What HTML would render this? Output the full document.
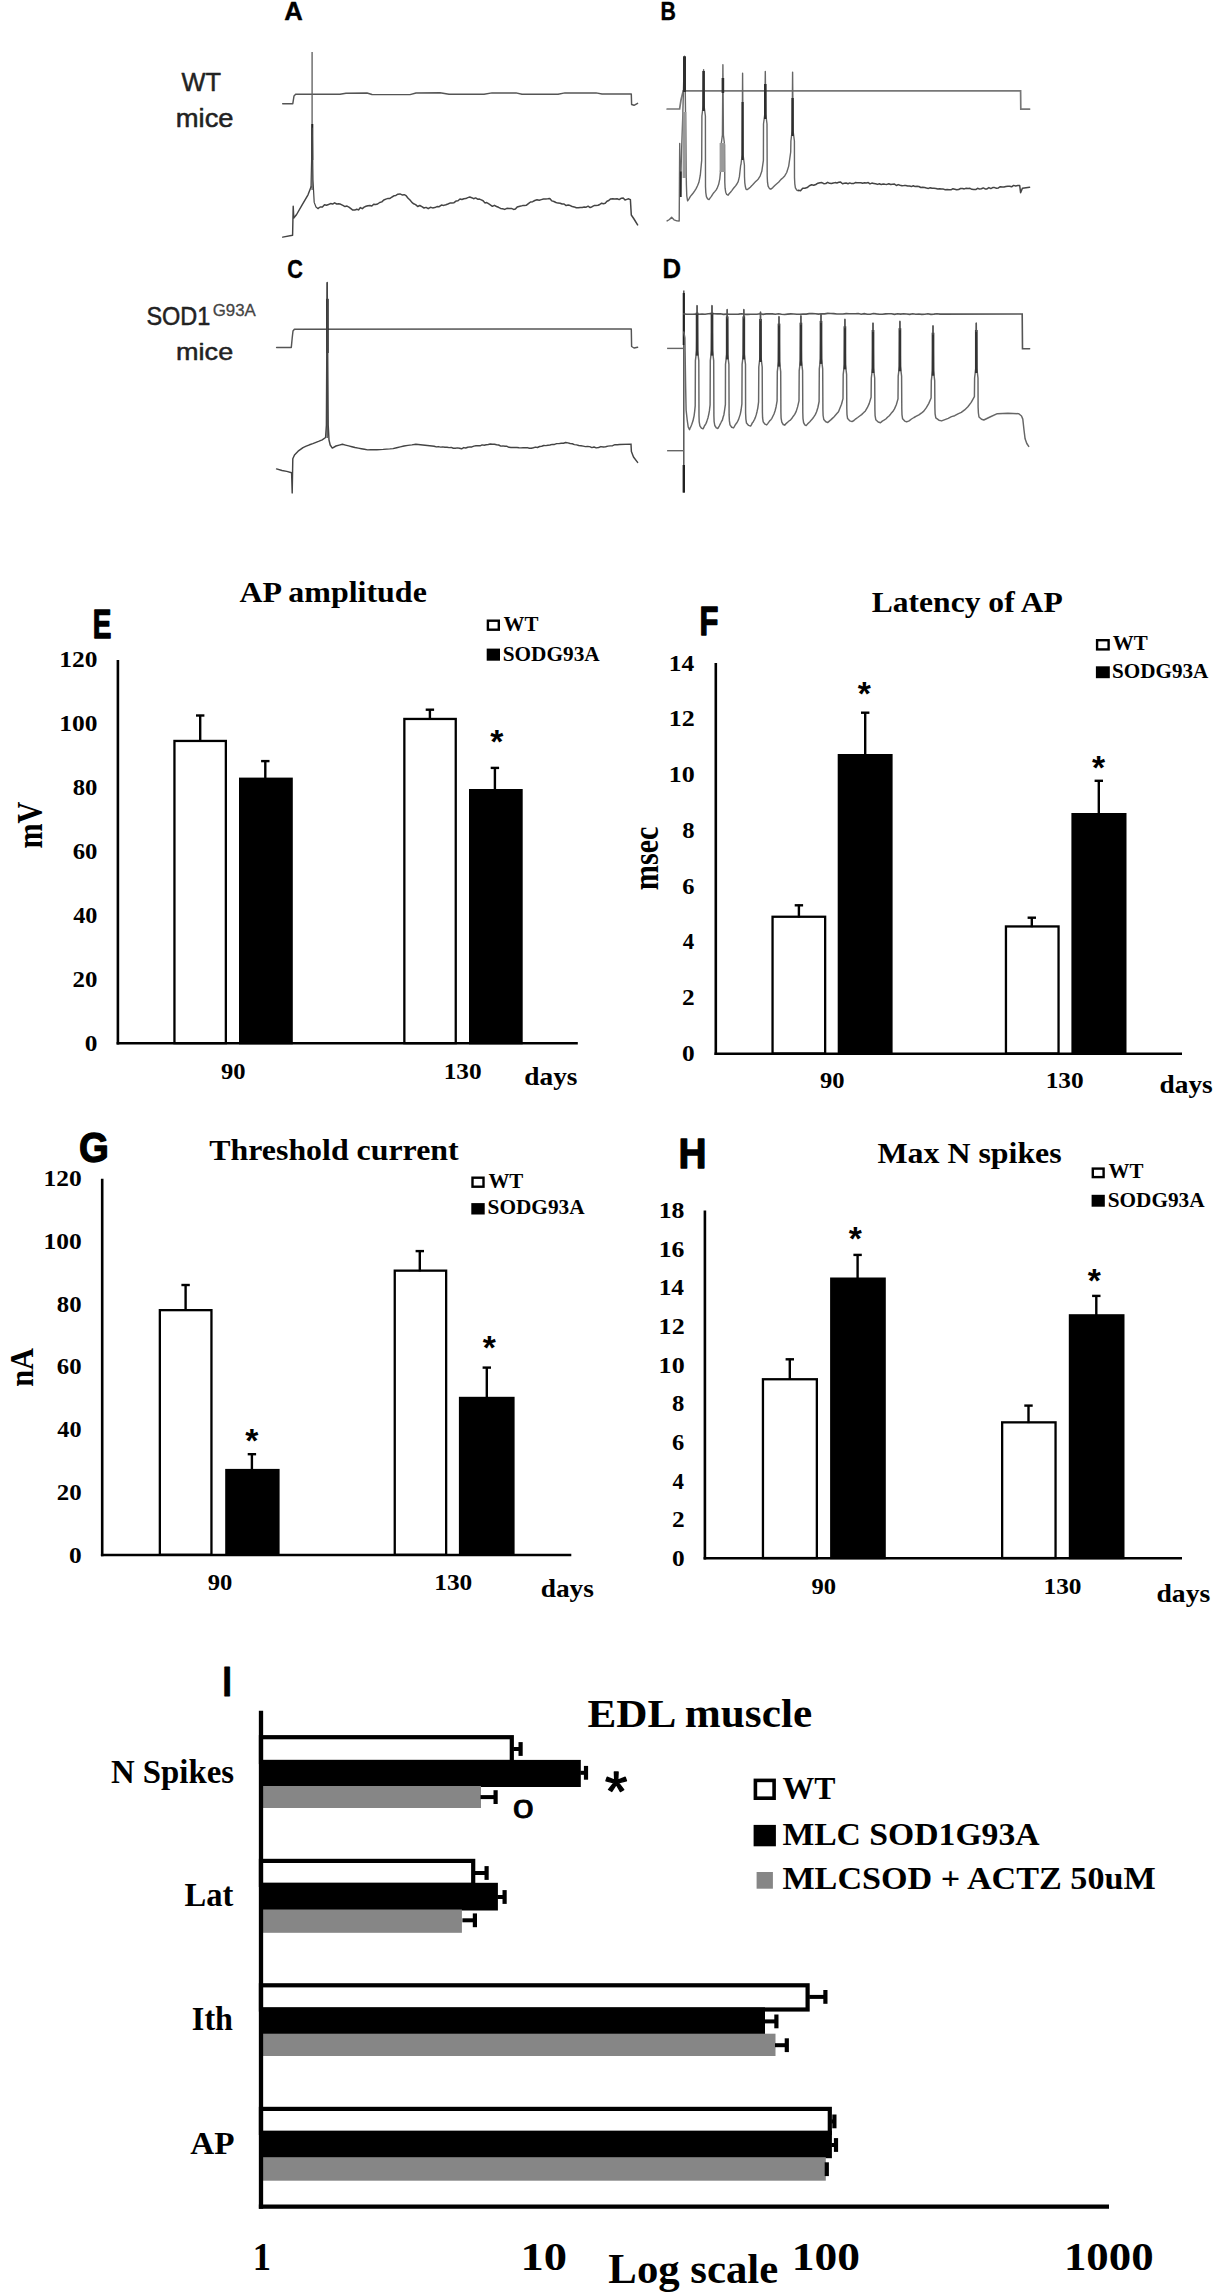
<!DOCTYPE html>
<html lang="en"><head><meta charset="utf-8"><title>Figure</title>
<style>
html,body{margin:0;padding:0;background:#fff;}
body{width:1225px;height:2295px;overflow:hidden;}
svg{display:block;}
text{white-space:pre;}
</style></head><body>
<svg width="1225" height="2295" viewBox="0 0 1225 2295">
<rect x="0" y="0" width="1225" height="2295" fill="#fff"/>
<text transform="translate(284.16,19.90) scale(0.9896,1)" font-family='"Liberation Sans", sans-serif' font-weight="bold" font-size="25.94" fill="#000" stroke="#000" stroke-width="0.4" stroke-linejoin="round">A</text>
<text transform="translate(181.42,90.75) scale(1.0025,1)" font-family='"Liberation Sans", sans-serif' font-weight="normal" font-size="25.36" fill="#222" stroke="#222" stroke-width="0.5" stroke-linejoin="round">WT</text>
<text transform="translate(175.77,126.55) scale(1.0975,1)" font-family='"Liberation Sans", sans-serif' font-weight="normal" font-size="24.97" fill="#222" stroke="#222" stroke-width="0.5" stroke-linejoin="round">mice</text>
<polyline points="282.7,103.7 292.8,103.7 294.0,96.0 295.9,94.1 340.0,94.3 346.0,93.2 367.0,93.0 372.0,94.5 410.0,94.6 416.0,93.0 440.0,92.8 449.0,94.2 484.0,94.2 492.0,92.9 516.0,92.9 522.0,94.3 558.0,94.3 565.0,92.9 596.0,92.9 602.0,94.0 631.3,93.9 631.6,104.5 634.0,105.3 637.6,103.3" fill="none" stroke="#555" stroke-width="1.45" stroke-linejoin="round" stroke-linecap="round"/>
<line x1="312.10" y1="51.90" x2="312.10" y2="190.00" stroke="#666" stroke-width="1.4" stroke-linecap="butt"/>
<line x1="312.30" y1="124.00" x2="312.30" y2="160.00" stroke="#222" stroke-width="2.0" stroke-linecap="butt"/>
<polyline points="282.7,237.1 292.6,235.3 293.2,206.2 293.8,218.0 296.6,214.5 301.7,205.6 308.0,194.8 311.0,187.0" fill="none" stroke="#444" stroke-width="1.45" stroke-linejoin="round" stroke-linecap="round"/>
<polyline points="311.0,187.0 311.8,150.0 312.3,128.0 313.0,180.0 314.2,202.4 316.0,207.0 318.1,208.7" fill="none" stroke="#444" stroke-width="1.2" stroke-linejoin="round" stroke-linecap="round"/>
<polyline points="318.1,208.4 320.2,207.0 322.4,206.9 324.5,204.7 326.5,205.2 328.5,204.5 330.6,203.6 332.6,204.1 334.6,202.8 336.7,204.0 338.8,203.8 340.8,204.3 342.9,205.4 345.0,206.6 347.0,206.1 348.9,207.1 350.9,208.6 352.8,210.1 354.8,210.1 356.7,209.3 358.5,209.9 360.4,207.6 362.3,208.7 364.1,207.1 366.0,206.3 367.9,205.7 369.9,205.5 371.8,206.0 373.7,204.2 375.7,204.4 377.6,204.0 379.7,202.5 381.8,201.9 383.8,200.0 385.9,199.1 388.0,198.4 390.0,198.4 392.0,197.0 393.9,195.8 395.9,195.4 397.9,194.2 400.0,193.9 402.1,194.9 404.2,194.7 406.1,195.7 408.1,198.2 410.0,200.0 411.9,202.4 413.7,203.8 415.6,204.6 417.7,206.5 419.8,205.5 421.9,206.7 424.0,208.0 426.1,207.4 428.2,208.7 430.4,207.3 432.6,207.9 434.8,207.6 437.0,206.6 439.2,206.7 441.4,205.1 443.7,205.4 445.9,204.7 447.9,204.0 449.9,203.1 451.9,203.1 454.0,202.7 456.0,201.1 458.0,200.8 460.0,199.0 461.9,199.5 463.9,198.7 465.8,198.6 467.8,197.6 469.8,197.0 471.7,197.7 473.6,198.7 475.6,197.9 477.6,199.2 479.5,199.1 481.3,199.9 483.1,200.7 484.9,202.9 486.7,202.6 488.5,203.7 490.3,204.9 492.4,206.3 494.4,205.3 496.5,206.5 498.5,207.3 500.6,208.4 502.6,208.8 504.7,209.4 506.9,208.3 509.1,208.5 511.4,208.4 513.6,209.4 515.4,209.1 517.2,207.0 519.0,206.5 520.8,206.1 522.6,205.6 524.4,205.6 526.2,205.3 528.4,203.6 530.5,202.0 532.7,201.7 534.8,200.5 537.0,199.8 539.2,200.3 541.3,199.6 543.5,199.0 545.6,199.0 547.8,198.8 549.8,198.5 551.9,200.9 553.9,201.5 556.0,202.5 558.0,203.1 560.1,203.2 562.1,204.0 564.1,204.0 566.1,205.6 568.2,205.1 570.2,205.6 572.2,206.5 574.2,206.9 576.3,207.8 578.3,207.8 580.3,207.4 582.2,207.4 584.2,207.0 586.2,207.2 588.1,206.2 590.1,207.6 592.1,206.7 594.1,205.6 596.0,205.4 598.0,205.3 599.8,204.5 601.6,203.2 603.4,203.7 605.2,203.2 607.0,201.3 608.8,200.5 610.6,198.9 612.8,198.8 614.9,199.0 617.1,198.7 619.2,199.6 621.4,198.2 623.2,198.1 625.0,200.0 626.8,199.4 628.6,198.8 630.4,199.7 631.3,215.0 634.0,219.0 637.6,224.9" fill="none" stroke="#444" stroke-width="1.5" stroke-linejoin="round" stroke-linecap="round"/>
<text transform="translate(660.51,20.00) scale(0.8124,1)" font-family='"Liberation Sans", sans-serif' font-weight="bold" font-size="26.23" fill="#000" stroke="#000" stroke-width="0.4" stroke-linejoin="round">B</text>
<polyline points="667.1,109.0 679.6,109.0 681.0,100.0 683.2,90.8 1020.6,90.8 1020.8,109.1 1029.6,109.1" fill="none" stroke="#777" stroke-width="1.7" stroke-linejoin="miter" stroke-linecap="round"/>
<polyline points="667.1,220.9 669.5,219.5 671.6,217.3 674.0,219.8 676.9,220.9 679.2,221.0 679.7,143.5 680.3,196.0 680.9,176.0 681.6,150.0 682.7,118.0 684.0,70.0 684.5,56.3 685.0,70.0 686.4,185.0 686.8,196.0 687.6,200.8 689.0,198.8 690.4,196.4 691.8,194.7 693.2,193.0 694.7,190.9 696.1,188.6 697.5,185.8 698.9,182.3 700.3,175.2 701.7,160.4 701.9,116.0 703.1,106.0 703.6,69.8 704.1,106.0 705.4,116.0 705.5,186.6 705.8,192.6 706.4,196.6 707.6,198.9 709.0,199.6 710.2,197.9 711.4,196.4 712.6,194.4 713.8,192.7 715.0,191.4 716.2,189.8 717.4,187.6 718.6,184.6 719.8,178.8 721.0,166.2 721.1,145.0 722.4,135.0 722.9,64.7 723.4,135.0 724.6,145.0 724.8,182.2 725.1,188.2 725.7,192.2 726.7,194.5 728.0,195.2 729.3,193.5 730.5,192.2 731.8,190.6 733.1,188.8 734.4,187.3 735.6,185.9 736.9,184.0 738.2,181.6 739.4,176.7 740.7,165.0 740.9,165.0 742.1,155.0 742.6,73.3 743.1,155.0 744.4,165.0 744.5,176.8 744.8,182.8 745.4,186.8 746.0,189.1 747.0,189.8 748.6,188.6 750.3,187.2 751.9,185.6 753.6,183.7 755.2,182.1 756.8,180.6 758.5,178.7 760.1,176.1 761.8,171.3 763.4,160.3 763.5,124.0 764.8,114.0 765.3,71.4 765.8,114.0 767.0,124.0 767.2,176.2 767.5,182.2 768.1,186.2 769.4,188.5 770.8,189.2 772.8,187.6 774.8,185.5 776.8,183.7 778.8,182.0 780.8,179.6 782.7,178.0 784.7,175.9 786.7,172.5 788.7,166.1 790.7,152.0 790.9,141.0 792.1,131.0 792.6,72.1 793.1,131.0 794.4,141.0 794.5,177.8 794.8,183.8 795.4,187.8 796.8,190.1 798.4,190.8" fill="none" stroke="#666" stroke-width="1.4" stroke-linejoin="round" stroke-linecap="round"/>
<line x1="680.80" y1="171.50" x2="680.80" y2="197.00" stroke="#2a2a2a" stroke-width="1.8" stroke-linecap="butt"/>
<rect x="682.60" y="112.00" width="3.80" height="66.00" fill="#9a9a9a"/>
<rect x="719.60" y="143.00" width="5.20" height="29.00" fill="#9a9a9a"/>
<line x1="684.50" y1="56.30" x2="684.50" y2="92.00" stroke="#2e2e2e" stroke-width="3.0" stroke-linecap="butt"/>
<line x1="703.60" y1="71.00" x2="703.60" y2="111.00" stroke="#2e2e2e" stroke-width="2.6" stroke-linecap="butt"/>
<line x1="722.90" y1="78.00" x2="722.90" y2="93.00" stroke="#2e2e2e" stroke-width="2.6" stroke-linecap="butt"/>
<line x1="742.60" y1="102.00" x2="742.60" y2="160.00" stroke="#2e2e2e" stroke-width="2.2" stroke-linecap="butt"/>
<line x1="765.30" y1="84.00" x2="765.30" y2="119.00" stroke="#2e2e2e" stroke-width="2.6" stroke-linecap="butt"/>
<line x1="792.60" y1="98.00" x2="792.60" y2="136.00" stroke="#2e2e2e" stroke-width="2.4" stroke-linecap="butt"/>
<polyline points="798.4,190.3 800.5,190.8 802.7,188.3 804.9,188.2 807.2,187.6 809.4,185.7 811.6,184.8 813.7,185.3 815.8,184.5 817.9,183.2 820.0,182.7 821.9,182.6 823.8,183.7 825.8,183.5 827.7,182.3 829.6,183.3 831.4,183.6 833.3,183.1 835.1,182.6 836.9,183.0 838.8,182.3 840.6,182.1 842.5,183.7 844.3,183.2 846.1,183.0 848.0,183.7 849.8,182.9 851.6,183.6 853.5,183.6 855.3,182.6 857.1,182.7 859.0,182.8 860.8,182.7 862.7,183.3 864.5,182.8 866.3,183.0 868.2,182.6 870.0,183.9 871.9,183.1 873.8,183.4 875.6,183.7 877.5,184.4 879.4,183.7 881.3,184.6 883.2,184.1 885.1,184.3 887.0,184.4 888.8,183.7 890.7,184.5 892.6,184.2 894.5,184.1 896.4,185.5 898.2,184.6 900.1,185.2 902.0,185.7 903.9,185.6 905.8,185.4 907.7,185.9 909.5,186.1 911.4,186.6 913.3,185.7 915.2,186.6 917.1,186.3 918.9,186.5 920.8,187.5 922.7,187.2 924.6,187.5 926.5,188.0 928.4,188.4 930.2,187.8 932.1,188.3 934.0,188.3 935.9,188.4 937.8,188.9 939.6,188.7 941.5,189.0 943.4,189.1 945.3,189.8 947.2,189.4 949.1,189.7 951.0,189.8 952.9,188.7 954.8,189.2 956.7,189.8 958.6,189.6 960.5,188.5 962.4,188.4 964.3,188.9 966.2,188.3 968.1,188.6 970.0,188.3 971.9,189.3 973.8,189.5 975.7,189.6 977.6,188.3 979.5,189.1 981.4,188.8 983.3,187.9 985.1,188.9 987.0,188.9 988.9,187.6 990.8,188.6 992.7,187.6 994.6,187.6 996.5,188.3 998.4,187.9 1000.3,186.7 1002.2,187.0 1004.0,187.0 1005.9,186.6 1007.8,186.2 1009.7,186.2 1011.6,186.8 1013.6,185.4 1015.7,186.0 1017.7,185.6 1019.7,185.5 1020.6,192.7 1022.4,188.2 1029.6,187.3" fill="none" stroke="#444" stroke-width="1.5" stroke-linejoin="round" stroke-linecap="round"/>
<text transform="translate(287.33,278.10) scale(0.8159,1)" font-family='"Liberation Sans", sans-serif' font-weight="bold" font-size="26.57" fill="#000" stroke="#000" stroke-width="0.4" stroke-linejoin="round">C</text>
<text transform="translate(146.39,325.15) scale(0.9138,1)" font-family='"Liberation Sans", sans-serif' font-weight="normal" font-size="25.71" fill="#222" stroke="#222" stroke-width="0.5" stroke-linejoin="round">SOD1</text>
<text transform="translate(212.71,316.45) scale(0.9746,1)" font-family='"Liberation Sans", sans-serif' font-weight="normal" font-size="17.29" fill="#444" stroke="#444" stroke-width="0.3" stroke-linejoin="round">G93A</text>
<text transform="translate(176.09,360.25) scale(1.1018,1)" font-family='"Liberation Sans", sans-serif' font-weight="normal" font-size="24.55" fill="#222" stroke="#222" stroke-width="0.5" stroke-linejoin="round">mice</text>
<polyline points="276.6,347.4 291.3,347.4 292.2,338.0 293.0,331.0 294.4,329.2 631.3,329.0 631.6,346.5 634.0,348.0 637.6,347.2" fill="none" stroke="#555" stroke-width="1.45" stroke-linejoin="round" stroke-linecap="round"/>
<line x1="327.20" y1="282.40" x2="327.20" y2="438.00" stroke="#555" stroke-width="1.4" stroke-linecap="butt"/>
<line x1="327.40" y1="298.80" x2="327.40" y2="353.00" stroke="#1a1a1a" stroke-width="2.6" stroke-linecap="butt"/>
<polyline points="276.6,468.9 282.0,470.5 286.8,471.4 291.6,472.7 292.2,492.9 292.8,458.8 294.5,455.0 298.1,451.2 303.0,447.6 306.2,446.2 309.5,444.8 312.8,443.6 316.0,442.3 319.1,441.1 322.2,439.8 325.6,437.5 326.4,425.0 327.2,282.4 328.2,425.0 329.0,440.0 330.2,445.0 332.3,448.1 336.0,446.0 339.2,445.1 342.4,444.3 345.5,445.1 348.7,445.9 351.9,446.7 355.0,447.5 358.2,448.1 361.4,448.7 364.5,449.3 367.7,449.9 370.8,449.8 373.9,449.8 376.9,449.7 380.0,449.6 383.2,449.4 386.5,449.1 389.8,448.9 393.0,448.6 396.7,447.7 400.3,446.9 404.0,446.0 407.9,445.4 411.9,444.9 415.8,444.3 432.0,446.0 434.1,446.2 436.3,446.9 438.4,446.6 440.6,447.1 442.7,446.9 444.9,447.3 447.0,447.2 449.1,447.6 451.2,447.4 453.3,448.2 455.3,448.2 457.4,447.9 459.5,448.3 461.6,448.8 463.7,447.6 465.7,448.0 467.8,447.2 469.8,446.9 471.9,446.9 473.9,446.1 476.0,445.8 478.0,445.7 480.1,445.8 482.1,444.9 484.2,445.2 486.2,444.8 488.3,444.5 490.3,444.0 492.4,444.3 494.5,444.3 496.6,444.8 498.7,445.0 500.8,446.1 502.9,445.9 505.0,446.2 507.0,446.3 509.0,447.3 511.0,447.5 513.0,447.5 515.0,447.4 517.0,447.5 519.0,447.8 521.1,447.9 523.1,447.6 525.2,447.8 527.2,447.6 529.3,448.2 531.3,448.2 533.4,447.7 535.5,447.1 537.5,447.5 539.6,446.5 541.7,446.2 543.8,445.5 545.9,445.6 547.9,445.3 550.0,445.0 552.2,444.4 554.5,444.4 556.7,443.6 559.0,443.6 561.2,443.2 563.5,443.2 565.7,442.5 567.9,442.9 570.1,443.5 572.3,443.8 574.4,444.6 576.6,444.9 578.8,445.5 581.0,445.8 583.2,446.1 585.3,446.6 587.5,446.4 589.7,446.6 591.9,447.6 594.0,447.0 596.2,447.9 598.6,447.5 600.9,446.6 603.3,447.0 605.6,446.7 608.0,446.1 610.3,445.9 612.6,445.7 615.0,444.7 617.3,444.8 619.6,444.5 631.0,444.1 631.4,451.6 633.5,457.0 637.6,462.4" fill="none" stroke="#444" stroke-width="1.45" stroke-linejoin="round" stroke-linecap="round"/>
<text transform="translate(662.53,278.40) scale(0.9582,1)" font-family='"Liberation Sans", sans-serif' font-weight="bold" font-size="26.81" fill="#000" stroke="#000" stroke-width="0.4" stroke-linejoin="round">D</text>
<line x1="683.80" y1="290.50" x2="683.80" y2="492.60" stroke="#555" stroke-width="1.5" stroke-linecap="butt"/>
<line x1="683.80" y1="293.00" x2="683.80" y2="345.00" stroke="#222" stroke-width="2.2" stroke-linecap="butt"/>
<line x1="683.80" y1="465.00" x2="683.80" y2="492.60" stroke="#222" stroke-width="2.4" stroke-linecap="butt"/>
<line x1="667.10" y1="348.40" x2="683.80" y2="348.40" stroke="#666" stroke-width="1.4" stroke-linecap="butt"/>
<line x1="667.10" y1="450.70" x2="683.80" y2="450.70" stroke="#666" stroke-width="1.4" stroke-linecap="butt"/>
<polyline points="683.8,313.9 686.8,314.2 689.9,314.2 692.9,314.2 696.0,314.0 699.0,314.3 702.1,314.1 705.1,314.2 708.2,313.8 711.2,313.6 714.3,313.7 717.3,313.9 720.4,313.7 723.4,314.4 726.5,314.1 729.5,314.2 732.6,314.2 735.6,314.3 738.7,314.1 741.7,313.7 744.8,314.4 747.8,314.4 750.9,314.2 753.9,314.2 757.0,314.3 760.0,313.8 763.1,314.4 766.2,313.9 769.2,313.8 772.3,313.9 775.4,314.3 778.5,313.8 781.5,314.3 784.6,314.5 787.7,314.1 790.8,313.9 793.8,314.0 796.9,314.2 800.0,314.2 803.1,314.1 806.2,314.1 809.2,313.6 812.3,313.6 815.4,313.7 818.5,314.1 821.5,313.7 824.6,313.9 827.7,313.4 830.8,313.5 833.8,313.6 836.9,314.0 840.0,314.0 843.0,314.0 846.1,313.6 849.1,313.8 852.1,313.8 855.2,313.8 858.2,313.5 861.2,314.2 864.2,313.6 867.3,314.3 870.3,314.3 873.3,313.5 876.4,313.9 879.4,314.2 882.4,314.3 885.5,313.9 888.5,313.7 891.5,313.7 894.5,314.4 897.6,313.7 900.6,314.1 903.6,313.7 906.7,314.0 909.7,314.4 912.7,313.7 915.8,314.3 918.8,314.0 921.8,314.4 924.8,314.2 927.9,313.8 930.9,314.4 933.9,314.1 937.0,313.7 940.0,314.1 1022.2,314.0 1022.5,348.7 1029.6,348.7" fill="none" stroke="#555" stroke-width="1.6" stroke-linejoin="miter" stroke-linecap="round"/>
<polyline points="683.8,332.0 684.9,338.0 685.6,385.0 686.1,410.0 687.2,420.0 688.2,427.0 689.5,429.7 690.1,428.0 690.6,427.1 691.2,425.7 691.8,424.2 692.4,422.5 693.0,420.8 693.5,418.5 694.1,415.8 694.7,411.1 695.2,405.9 695.4,360.6 696.6,350.6 697.1,305.6 697.6,350.6 698.8,360.6 699.0,415.8 699.2,421.8 699.9,425.8 701.4,428.1 703.0,428.8 703.7,427.7 704.4,425.9 705.1,425.1 705.9,423.6 706.6,422.1 707.3,419.9 708.0,417.7 708.7,414.6 709.4,410.9 710.1,404.9 710.3,360.6 711.5,350.6 712.0,305.6 712.5,350.6 713.7,360.6 713.9,415.5 714.1,421.5 714.8,425.5 716.3,427.8 717.9,428.5 718.6,427.1 719.4,425.8 720.1,424.4 720.9,422.8 721.6,421.3 722.4,420.0 723.1,417.3 723.9,414.7 724.6,410.1 725.4,404.3 725.5,364.4 726.7,354.4 727.2,309.4 727.7,354.4 728.9,364.4 729.1,414.9 729.4,420.9 730.0,424.9 731.7,427.2 733.5,427.9 734.3,426.6 735.2,425.0 736.0,423.8 736.9,422.8 737.7,421.2 738.6,419.4 739.4,416.9 740.3,414.1 741.1,410.0 741.9,403.9 742.1,364.4 743.3,354.4 743.8,309.4 744.3,354.4 745.5,364.4 745.6,413.1 745.9,419.1 746.5,423.1 748.6,425.4 750.6,426.1 751.4,424.9 752.2,423.1 753.0,422.3 753.8,420.7 754.6,419.3 755.4,417.4 756.2,414.9 757.0,411.7 757.8,408.1 758.6,401.8 758.8,367.0 760.0,357.0 760.5,312.0 761.0,357.0 762.2,367.0 762.4,411.9 762.6,417.9 763.2,421.9 765.0,424.2 766.7,424.9 767.7,423.6 768.8,422.1 769.8,420.8 770.9,419.7 771.9,418.3 773.0,416.0 774.0,414.0 775.1,410.7 776.1,406.7 777.1,400.8 777.3,371.6 778.5,361.6 779.0,316.6 779.5,361.6 780.7,371.6 780.9,412.2 781.1,418.2 781.8,422.2 783.2,424.5 784.7,425.2 786.1,423.6 787.6,422.3 789.0,421.0 790.4,420.1 791.9,418.3 793.3,416.2 794.7,414.4 796.2,411.4 797.6,406.9 799.0,400.9 799.2,370.7 800.4,360.7 800.9,315.7 801.4,360.7 802.6,370.7 802.8,412.6 803.0,418.6 803.6,422.6 804.8,424.9 806.2,425.6 807.5,424.1 808.8,422.7 810.1,421.5 811.4,419.9 812.7,418.5 814.0,416.7 815.3,414.6 816.6,411.8 817.9,407.5 819.1,401.5 819.3,368.9 820.5,358.9 821.0,313.9 821.5,358.9 822.7,368.9 822.9,409.5 823.1,415.5 823.8,419.5 825.8,421.8 827.8,422.5 829.3,421.1 830.8,419.9 832.4,418.4 833.9,417.0 835.4,415.3 836.9,413.6 838.5,411.8 840.0,408.1 841.5,404.2 843.0,398.6 843.2,374.3 844.4,364.3 844.9,319.3 845.4,364.3 846.6,374.3 846.8,408.6 847.0,414.6 847.6,418.6 849.9,420.9 852.0,421.6 853.9,420.5 855.8,418.8 857.7,417.5 859.7,416.0 861.6,414.6 863.5,412.8 865.4,410.9 867.3,407.7 869.2,403.6 871.1,397.3 871.3,378.0 872.5,368.0 873.0,323.0 873.5,368.0 874.7,378.0 874.9,409.7 875.1,415.7 875.8,419.7 878.2,422.0 880.5,422.7 882.3,421.1 884.0,420.2 885.8,419.0 887.5,417.3 889.3,415.8 891.0,413.6 892.8,411.6 894.5,408.9 896.3,404.7 898.0,398.9 898.2,376.2 899.4,366.2 899.9,321.2 900.4,366.2 901.6,376.2 901.8,408.8 902.0,414.8 902.6,418.8 904.7,421.1 906.6,421.8 909.1,420.8 911.5,419.0 914.0,417.5 916.4,416.2 918.9,414.9 921.3,413.2 923.8,411.1 926.2,407.9 928.7,403.6 931.1,398.0 931.3,380.7 932.5,370.7 933.0,325.7 933.5,370.7 934.7,380.7 934.9,407.9 935.1,413.9 935.8,417.9 938.9,420.2 941.6,420.9 944.9,419.6 948.2,418.3 951.5,416.6 954.7,415.7 958.0,413.8 961.3,412.4 964.6,409.9 967.9,406.7 971.2,402.4 974.4,396.7 974.6,378.0 975.8,368.0 976.3,323.0 976.8,368.0 978.0,378.0 978.1,407.0 978.4,413.0 979.0,417.0 981.5,419.3 983.8,420.0 990.0,417.0 997.3,413.7 1008.0,413.2 1018.8,413.7 1021.5,416.0 1022.8,419.1 1024.0,430.0 1025.1,438.8 1026.8,443.5 1028.7,446.4" fill="none" stroke="#666" stroke-width="1.45" stroke-linejoin="round" stroke-linecap="round"/>
<line x1="697.10" y1="312.60" x2="697.10" y2="355.60" stroke="#333" stroke-width="2.7" stroke-linecap="butt"/>
<line x1="697.10" y1="305.60" x2="697.10" y2="314.60" stroke="#555" stroke-width="1.4" stroke-linecap="butt"/>
<line x1="712.00" y1="312.60" x2="712.00" y2="355.60" stroke="#333" stroke-width="2.7" stroke-linecap="butt"/>
<line x1="712.00" y1="305.60" x2="712.00" y2="314.60" stroke="#555" stroke-width="1.4" stroke-linecap="butt"/>
<line x1="727.20" y1="316.40" x2="727.20" y2="359.40" stroke="#333" stroke-width="2.7" stroke-linecap="butt"/>
<line x1="727.20" y1="309.40" x2="727.20" y2="318.40" stroke="#555" stroke-width="1.4" stroke-linecap="butt"/>
<line x1="743.80" y1="316.40" x2="743.80" y2="359.40" stroke="#333" stroke-width="2.7" stroke-linecap="butt"/>
<line x1="743.80" y1="309.40" x2="743.80" y2="318.40" stroke="#555" stroke-width="1.4" stroke-linecap="butt"/>
<line x1="760.50" y1="319.00" x2="760.50" y2="362.00" stroke="#333" stroke-width="2.7" stroke-linecap="butt"/>
<line x1="760.50" y1="312.00" x2="760.50" y2="321.00" stroke="#555" stroke-width="1.4" stroke-linecap="butt"/>
<line x1="779.00" y1="323.60" x2="779.00" y2="366.60" stroke="#333" stroke-width="2.7" stroke-linecap="butt"/>
<line x1="779.00" y1="316.60" x2="779.00" y2="325.60" stroke="#555" stroke-width="1.4" stroke-linecap="butt"/>
<line x1="800.90" y1="322.70" x2="800.90" y2="365.70" stroke="#333" stroke-width="2.7" stroke-linecap="butt"/>
<line x1="800.90" y1="315.70" x2="800.90" y2="324.70" stroke="#555" stroke-width="1.4" stroke-linecap="butt"/>
<line x1="821.00" y1="320.90" x2="821.00" y2="363.90" stroke="#333" stroke-width="2.7" stroke-linecap="butt"/>
<line x1="821.00" y1="313.90" x2="821.00" y2="322.90" stroke="#555" stroke-width="1.4" stroke-linecap="butt"/>
<line x1="844.90" y1="326.30" x2="844.90" y2="369.30" stroke="#333" stroke-width="2.7" stroke-linecap="butt"/>
<line x1="844.90" y1="319.30" x2="844.90" y2="328.30" stroke="#555" stroke-width="1.4" stroke-linecap="butt"/>
<line x1="873.00" y1="330.00" x2="873.00" y2="373.00" stroke="#333" stroke-width="2.7" stroke-linecap="butt"/>
<line x1="873.00" y1="323.00" x2="873.00" y2="332.00" stroke="#555" stroke-width="1.4" stroke-linecap="butt"/>
<line x1="899.90" y1="328.20" x2="899.90" y2="371.20" stroke="#333" stroke-width="2.7" stroke-linecap="butt"/>
<line x1="899.90" y1="321.20" x2="899.90" y2="330.20" stroke="#555" stroke-width="1.4" stroke-linecap="butt"/>
<line x1="933.00" y1="332.70" x2="933.00" y2="375.70" stroke="#333" stroke-width="2.7" stroke-linecap="butt"/>
<line x1="933.00" y1="325.70" x2="933.00" y2="334.70" stroke="#555" stroke-width="1.4" stroke-linecap="butt"/>
<line x1="976.30" y1="330.00" x2="976.30" y2="373.00" stroke="#333" stroke-width="2.7" stroke-linecap="butt"/>
<line x1="976.30" y1="323.00" x2="976.30" y2="332.00" stroke="#555" stroke-width="1.4" stroke-linecap="butt"/>
<rect x="174.45" y="740.95" width="51.40" height="302.20" fill="#fff" stroke="#000" stroke-width="2.3"/>
<rect x="239.00" y="777.60" width="53.80" height="266.70" fill="#000"/>
<rect x="404.35" y="718.95" width="51.40" height="324.20" fill="#fff" stroke="#000" stroke-width="2.3"/>
<rect x="469.00" y="789.00" width="53.70" height="255.30" fill="#000"/>
<line x1="200.20" y1="714.90" x2="200.20" y2="741.70" stroke="#000" stroke-width="2.4" stroke-linecap="butt"/>
<line x1="196.00" y1="715.50" x2="204.40" y2="715.50" stroke="#000" stroke-width="2.4" stroke-linecap="butt"/>
<line x1="265.30" y1="760.50" x2="265.30" y2="778.60" stroke="#000" stroke-width="2.4" stroke-linecap="butt"/>
<line x1="261.10" y1="761.10" x2="269.50" y2="761.10" stroke="#000" stroke-width="2.4" stroke-linecap="butt"/>
<line x1="429.90" y1="709.10" x2="429.90" y2="719.70" stroke="#000" stroke-width="2.4" stroke-linecap="butt"/>
<line x1="425.70" y1="709.70" x2="434.10" y2="709.70" stroke="#000" stroke-width="2.4" stroke-linecap="butt"/>
<line x1="494.90" y1="767.30" x2="494.90" y2="790.00" stroke="#000" stroke-width="2.4" stroke-linecap="butt"/>
<line x1="490.70" y1="767.90" x2="499.10" y2="767.90" stroke="#000" stroke-width="2.4" stroke-linecap="butt"/>
<line x1="117.90" y1="660.00" x2="117.90" y2="1044.55" stroke="#000" stroke-width="2.6" stroke-linecap="butt"/>
<line x1="116.60" y1="1043.30" x2="577.80" y2="1043.30" stroke="#000" stroke-width="2.6" stroke-linecap="butt"/>
<text transform="translate(84.74,1051.20) scale(1.0672,1)" font-family='"Liberation Serif", serif' font-weight="bold" font-size="23.76" fill="#000">0</text>
<text transform="translate(72.50,987.20) scale(1.0476,1)" font-family='"Liberation Serif", serif' font-weight="bold" font-size="23.76" fill="#000">20</text>
<text transform="translate(73.14,923.20) scale(1.0199,1)" font-family='"Liberation Serif", serif' font-weight="bold" font-size="23.76" fill="#000">40</text>
<text transform="translate(72.63,859.20) scale(1.0420,1)" font-family='"Liberation Serif", serif' font-weight="bold" font-size="23.76" fill="#000">60</text>
<text transform="translate(72.63,795.20) scale(1.0420,1)" font-family='"Liberation Serif", serif' font-weight="bold" font-size="23.76" fill="#000">80</text>
<text transform="translate(59.21,731.20) scale(1.0720,1)" font-family='"Liberation Serif", serif' font-weight="bold" font-size="23.76" fill="#000">100</text>
<text transform="translate(59.21,667.20) scale(1.0720,1)" font-family='"Liberation Serif", serif' font-weight="bold" font-size="23.76" fill="#000">120</text>
<text transform="translate(490.33,753.15) scale(1.0216,1)" font-family='"Liberation Sans", sans-serif' font-weight="bold" font-size="32.97">*</text>
<text transform="translate(239.48,602.30) scale(1.0685,1)" font-family='"Liberation Serif", serif' font-weight="bold" font-size="29.92" fill="#000">AP amplitude</text>
<text transform="translate(92.73,637.55) scale(0.6747,1)" font-family='"Liberation Sans", sans-serif' font-weight="bold" font-size="41.45" fill="#000" stroke="#000" stroke-width="1.3" stroke-linejoin="round">E</text>
<rect x="487.90" y="620.70" width="10.90" height="9.00" fill="#fff" stroke="#000" stroke-width="2.4"/>
<rect x="486.70" y="648.60" width="13.30" height="12.10" fill="#000"/>
<text transform="translate(503.59,631.20) scale(0.9857,1)" font-family='"Liberation Serif", serif' font-weight="bold" font-size="21.22" fill="#000">WT</text>
<text transform="translate(502.73,660.50) scale(0.9826,1)" font-family='"Liberation Serif", serif' font-weight="bold" font-size="21.67" fill="#000">SODG93A</text>
<text transform="translate(220.89,1079.00) scale(1.0353,1)" font-family='"Liberation Serif", serif' font-weight="bold" font-size="23.76" fill="#000">90</text>
<text transform="translate(443.67,1079.00) scale(1.0675,1)" font-family='"Liberation Serif", serif' font-weight="bold" font-size="23.76" fill="#000">130</text>
<text transform="translate(524.31,1085.40) scale(1.0556,1)" font-family='"Liberation Serif", serif' font-weight="bold" font-size="25.90" fill="#000">days</text>
<text transform="translate(41.90,848.55) rotate(-90) scale(0.8600,1)" font-family='"Liberation Serif", serif' font-weight="bold" font-size="35.11">mV</text>
<rect x="772.55" y="916.75" width="52.60" height="136.80" fill="#fff" stroke="#000" stroke-width="2.3"/>
<rect x="837.70" y="754.00" width="54.90" height="300.70" fill="#000"/>
<rect x="1005.95" y="926.45" width="52.60" height="127.10" fill="#fff" stroke="#000" stroke-width="2.3"/>
<rect x="1071.40" y="813.00" width="55.10" height="241.70" fill="#000"/>
<line x1="798.90" y1="904.70" x2="798.90" y2="917.50" stroke="#000" stroke-width="2.4" stroke-linecap="butt"/>
<line x1="794.70" y1="905.30" x2="803.10" y2="905.30" stroke="#000" stroke-width="2.4" stroke-linecap="butt"/>
<line x1="865.20" y1="712.10" x2="865.20" y2="755.00" stroke="#000" stroke-width="2.4" stroke-linecap="butt"/>
<line x1="861.00" y1="712.70" x2="869.40" y2="712.70" stroke="#000" stroke-width="2.4" stroke-linecap="butt"/>
<line x1="1031.80" y1="917.10" x2="1031.80" y2="927.20" stroke="#000" stroke-width="2.4" stroke-linecap="butt"/>
<line x1="1027.60" y1="917.70" x2="1036.00" y2="917.70" stroke="#000" stroke-width="2.4" stroke-linecap="butt"/>
<line x1="1098.80" y1="780.20" x2="1098.80" y2="814.00" stroke="#000" stroke-width="2.4" stroke-linecap="butt"/>
<line x1="1094.60" y1="780.80" x2="1103.00" y2="780.80" stroke="#000" stroke-width="2.4" stroke-linecap="butt"/>
<line x1="715.80" y1="663.00" x2="715.80" y2="1054.95" stroke="#000" stroke-width="2.6" stroke-linecap="butt"/>
<line x1="714.50" y1="1053.70" x2="1182.00" y2="1053.70" stroke="#000" stroke-width="2.6" stroke-linecap="butt"/>
<text transform="translate(682.04,1060.60) scale(1.0672,1)" font-family='"Liberation Serif", serif' font-weight="bold" font-size="23.76" fill="#000">0</text>
<text transform="translate(682.04,1004.90) scale(1.0592,1)" font-family='"Liberation Serif", serif' font-weight="bold" font-size="23.94" fill="#000">2</text>
<text transform="translate(682.71,949.20) scale(0.9567,1)" font-family='"Liberation Serif", serif' font-weight="bold" font-size="23.94" fill="#000">4</text>
<text transform="translate(682.19,893.50) scale(1.0227,1)" font-family='"Liberation Serif", serif' font-weight="bold" font-size="23.94" fill="#000">6</text>
<text transform="translate(682.18,837.80) scale(1.0424,1)" font-family='"Liberation Serif", serif' font-weight="bold" font-size="23.76" fill="#000">8</text>
<text transform="translate(668.72,782.10) scale(1.0953,1)" font-family='"Liberation Serif", serif' font-weight="bold" font-size="23.76" fill="#000">10</text>
<text transform="translate(668.72,726.40) scale(1.0870,1)" font-family='"Liberation Serif", serif' font-weight="bold" font-size="23.94" fill="#000">12</text>
<text transform="translate(668.76,670.70) scale(1.0629,1)" font-family='"Liberation Serif", serif' font-weight="bold" font-size="23.94" fill="#000">14</text>
<text transform="translate(857.73,704.85) scale(1.0216,1)" font-family='"Liberation Sans", sans-serif' font-weight="bold" font-size="32.97">*</text>
<text transform="translate(1091.93,778.95) scale(1.0216,1)" font-family='"Liberation Sans", sans-serif' font-weight="bold" font-size="32.97">*</text>
<text transform="translate(871.73,611.70) scale(1.0556,1)" font-family='"Liberation Serif", serif' font-weight="bold" font-size="29.92" fill="#000">Latency of AP</text>
<text transform="translate(699.54,635.05) scale(0.7689,1)" font-family='"Liberation Sans", sans-serif' font-weight="bold" font-size="40.29" fill="#000" stroke="#000" stroke-width="1.3" stroke-linejoin="round">F</text>
<rect x="1097.10" y="640.20" width="11.50" height="9.20" fill="#fff" stroke="#000" stroke-width="2.4"/>
<rect x="1095.90" y="666.30" width="13.90" height="11.90" fill="#000"/>
<text transform="translate(1112.79,650.20) scale(0.9857,1)" font-family='"Liberation Serif", serif' font-weight="bold" font-size="21.22" fill="#000">WT</text>
<text transform="translate(1111.94,678.00) scale(0.9775,1)" font-family='"Liberation Serif", serif' font-weight="bold" font-size="21.67" fill="#000">SODG93A</text>
<text transform="translate(819.89,1088.40) scale(1.0353,1)" font-family='"Liberation Serif", serif' font-weight="bold" font-size="23.76" fill="#000">90</text>
<text transform="translate(1045.67,1088.40) scale(1.0675,1)" font-family='"Liberation Serif", serif' font-weight="bold" font-size="23.76" fill="#000">130</text>
<text transform="translate(1159.50,1093.00) scale(1.0577,1)" font-family='"Liberation Serif", serif' font-weight="bold" font-size="25.90" fill="#000">days</text>
<text transform="translate(658.00,890.15) rotate(-90) scale(0.8653,1)" font-family='"Liberation Serif", serif' font-weight="bold" font-size="34.89">msec</text>
<rect x="159.85" y="1310.15" width="51.60" height="244.70" fill="#fff" stroke="#000" stroke-width="2.3"/>
<rect x="225.20" y="1468.90" width="54.40" height="87.10" fill="#000"/>
<rect x="394.75" y="1270.65" width="51.40" height="284.20" fill="#fff" stroke="#000" stroke-width="2.3"/>
<rect x="458.90" y="1396.80" width="55.70" height="159.20" fill="#000"/>
<line x1="185.60" y1="1284.40" x2="185.60" y2="1310.90" stroke="#000" stroke-width="2.4" stroke-linecap="butt"/>
<line x1="181.40" y1="1285.00" x2="189.80" y2="1285.00" stroke="#000" stroke-width="2.4" stroke-linecap="butt"/>
<line x1="251.90" y1="1453.60" x2="251.90" y2="1469.90" stroke="#000" stroke-width="2.4" stroke-linecap="butt"/>
<line x1="247.70" y1="1454.20" x2="256.10" y2="1454.20" stroke="#000" stroke-width="2.4" stroke-linecap="butt"/>
<line x1="419.80" y1="1250.50" x2="419.80" y2="1271.40" stroke="#000" stroke-width="2.4" stroke-linecap="butt"/>
<line x1="415.60" y1="1251.10" x2="424.00" y2="1251.10" stroke="#000" stroke-width="2.4" stroke-linecap="butt"/>
<line x1="486.80" y1="1367.00" x2="486.80" y2="1397.80" stroke="#000" stroke-width="2.4" stroke-linecap="butt"/>
<line x1="482.60" y1="1367.60" x2="491.00" y2="1367.60" stroke="#000" stroke-width="2.4" stroke-linecap="butt"/>
<line x1="102.20" y1="1178.80" x2="102.20" y2="1556.25" stroke="#000" stroke-width="2.6" stroke-linecap="butt"/>
<line x1="100.90" y1="1555.00" x2="571.30" y2="1555.00" stroke="#000" stroke-width="2.6" stroke-linecap="butt"/>
<text transform="translate(68.94,1562.80) scale(1.0672,1)" font-family='"Liberation Serif", serif' font-weight="bold" font-size="23.76" fill="#000">0</text>
<text transform="translate(56.70,1500.00) scale(1.0476,1)" font-family='"Liberation Serif", serif' font-weight="bold" font-size="23.76" fill="#000">20</text>
<text transform="translate(57.34,1437.20) scale(1.0199,1)" font-family='"Liberation Serif", serif' font-weight="bold" font-size="23.76" fill="#000">40</text>
<text transform="translate(56.83,1374.40) scale(1.0420,1)" font-family='"Liberation Serif", serif' font-weight="bold" font-size="23.76" fill="#000">60</text>
<text transform="translate(56.83,1311.60) scale(1.0420,1)" font-family='"Liberation Serif", serif' font-weight="bold" font-size="23.76" fill="#000">80</text>
<text transform="translate(43.41,1248.80) scale(1.0720,1)" font-family='"Liberation Serif", serif' font-weight="bold" font-size="23.76" fill="#000">100</text>
<text transform="translate(43.41,1186.00) scale(1.0720,1)" font-family='"Liberation Serif", serif' font-weight="bold" font-size="23.76" fill="#000">120</text>
<text transform="translate(245.23,1452.05) scale(1.0216,1)" font-family='"Liberation Sans", sans-serif' font-weight="bold" font-size="32.97">*</text>
<text transform="translate(482.73,1359.25) scale(1.0216,1)" font-family='"Liberation Sans", sans-serif' font-weight="bold" font-size="32.97">*</text>
<text transform="translate(209.32,1160.40) scale(1.0545,1)" font-family='"Liberation Serif", serif' font-weight="bold" font-size="30.23" fill="#000">Threshold current</text>
<text transform="translate(79.12,1161.55) scale(0.8983,1)" font-family='"Liberation Sans", sans-serif' font-weight="bold" font-size="42.71" fill="#000" stroke="#000" stroke-width="1.3" stroke-linejoin="round">G</text>
<rect x="472.50" y="1177.70" width="11.00" height="9.00" fill="#fff" stroke="#000" stroke-width="2.4"/>
<rect x="471.30" y="1203.10" width="13.40" height="11.40" fill="#000"/>
<text transform="translate(488.39,1187.70) scale(0.9857,1)" font-family='"Liberation Serif", serif' font-weight="bold" font-size="21.22" fill="#000">WT</text>
<text transform="translate(487.53,1214.30) scale(0.9837,1)" font-family='"Liberation Serif", serif' font-weight="bold" font-size="21.67" fill="#000">SODG93A</text>
<text transform="translate(207.69,1590.20) scale(1.0353,1)" font-family='"Liberation Serif", serif' font-weight="bold" font-size="23.76" fill="#000">90</text>
<text transform="translate(434.27,1590.20) scale(1.0675,1)" font-family='"Liberation Serif", serif' font-weight="bold" font-size="23.76" fill="#000">130</text>
<text transform="translate(540.70,1596.50) scale(1.0577,1)" font-family='"Liberation Serif", serif' font-weight="bold" font-size="25.90" fill="#000">days</text>
<text transform="translate(33.10,1386.86) rotate(-90) scale(0.9216,1)" font-family='"Liberation Serif", serif' font-weight="bold" font-size="33.03">nA</text>
<rect x="762.95" y="1379.25" width="53.90" height="178.80" fill="#fff" stroke="#000" stroke-width="2.3"/>
<rect x="830.10" y="1277.50" width="55.70" height="281.70" fill="#000"/>
<rect x="1002.15" y="1422.35" width="53.40" height="135.70" fill="#fff" stroke="#000" stroke-width="2.3"/>
<rect x="1068.80" y="1314.20" width="55.70" height="245.00" fill="#000"/>
<line x1="789.80" y1="1358.70" x2="789.80" y2="1380.00" stroke="#000" stroke-width="2.4" stroke-linecap="butt"/>
<line x1="785.60" y1="1359.30" x2="794.00" y2="1359.30" stroke="#000" stroke-width="2.4" stroke-linecap="butt"/>
<line x1="857.60" y1="1254.30" x2="857.60" y2="1278.50" stroke="#000" stroke-width="2.4" stroke-linecap="butt"/>
<line x1="853.40" y1="1254.90" x2="861.80" y2="1254.90" stroke="#000" stroke-width="2.4" stroke-linecap="butt"/>
<line x1="1028.50" y1="1405.00" x2="1028.50" y2="1423.10" stroke="#000" stroke-width="2.4" stroke-linecap="butt"/>
<line x1="1024.30" y1="1405.60" x2="1032.70" y2="1405.60" stroke="#000" stroke-width="2.4" stroke-linecap="butt"/>
<line x1="1096.30" y1="1295.30" x2="1096.30" y2="1315.20" stroke="#000" stroke-width="2.4" stroke-linecap="butt"/>
<line x1="1092.10" y1="1295.90" x2="1100.50" y2="1295.90" stroke="#000" stroke-width="2.4" stroke-linecap="butt"/>
<line x1="704.90" y1="1210.50" x2="704.90" y2="1559.45" stroke="#000" stroke-width="2.6" stroke-linecap="butt"/>
<line x1="703.60" y1="1558.20" x2="1182.00" y2="1558.20" stroke="#000" stroke-width="2.6" stroke-linecap="butt"/>
<text transform="translate(671.94,1566.10) scale(1.0672,1)" font-family='"Liberation Serif", serif' font-weight="bold" font-size="23.76" fill="#000">0</text>
<text transform="translate(671.94,1527.40) scale(1.0592,1)" font-family='"Liberation Serif", serif' font-weight="bold" font-size="23.94" fill="#000">2</text>
<text transform="translate(672.61,1488.70) scale(0.9567,1)" font-family='"Liberation Serif", serif' font-weight="bold" font-size="23.94" fill="#000">4</text>
<text transform="translate(672.09,1450.00) scale(1.0227,1)" font-family='"Liberation Serif", serif' font-weight="bold" font-size="23.94" fill="#000">6</text>
<text transform="translate(672.08,1411.30) scale(1.0424,1)" font-family='"Liberation Serif", serif' font-weight="bold" font-size="23.76" fill="#000">8</text>
<text transform="translate(658.62,1372.60) scale(1.0953,1)" font-family='"Liberation Serif", serif' font-weight="bold" font-size="23.76" fill="#000">10</text>
<text transform="translate(658.62,1333.90) scale(1.0870,1)" font-family='"Liberation Serif", serif' font-weight="bold" font-size="23.94" fill="#000">12</text>
<text transform="translate(658.66,1295.20) scale(1.0629,1)" font-family='"Liberation Serif", serif' font-weight="bold" font-size="23.94" fill="#000">14</text>
<text transform="translate(658.64,1256.50) scale(1.0748,1)" font-family='"Liberation Serif", serif' font-weight="bold" font-size="23.94" fill="#000">16</text>
<text transform="translate(658.63,1217.80) scale(1.0891,1)" font-family='"Liberation Serif", serif' font-weight="bold" font-size="23.76" fill="#000">18</text>
<text transform="translate(848.83,1249.95) scale(1.0216,1)" font-family='"Liberation Sans", sans-serif' font-weight="bold" font-size="32.97">*</text>
<text transform="translate(1087.63,1292.25) scale(1.0216,1)" font-family='"Liberation Sans", sans-serif' font-weight="bold" font-size="32.97">*</text>
<text transform="translate(877.52,1163.40) scale(1.0654,1)" font-family='"Liberation Serif", serif' font-weight="bold" font-size="29.92" fill="#000">Max N spikes</text>
<text transform="translate(678.53,1168.15) scale(0.9267,1)" font-family='"Liberation Sans", sans-serif' font-weight="bold" font-size="41.88" fill="#000" stroke="#000" stroke-width="1.3" stroke-linejoin="round">H</text>
<rect x="1092.80" y="1168.60" width="10.80" height="8.50" fill="#fff" stroke="#000" stroke-width="2.4"/>
<rect x="1091.60" y="1194.80" width="13.20" height="11.90" fill="#000"/>
<text transform="translate(1108.49,1178.10) scale(0.9857,1)" font-family='"Liberation Serif", serif' font-weight="bold" font-size="21.22" fill="#000">WT</text>
<text transform="translate(1107.63,1206.50) scale(0.9826,1)" font-family='"Liberation Serif", serif' font-weight="bold" font-size="21.67" fill="#000">SODG93A</text>
<text transform="translate(811.49,1593.50) scale(1.0353,1)" font-family='"Liberation Serif", serif' font-weight="bold" font-size="23.76" fill="#000">90</text>
<text transform="translate(1043.47,1593.50) scale(1.0675,1)" font-family='"Liberation Serif", serif' font-weight="bold" font-size="23.76" fill="#000">130</text>
<text transform="translate(1156.49,1602.10) scale(1.0680,1)" font-family='"Liberation Serif", serif' font-weight="bold" font-size="25.90" fill="#000">days</text>
<rect x="260.95" y="1737.20" width="250.85" height="24.80" fill="#fff" stroke="#000" stroke-width="4.2"/>
<rect x="261.00" y="1759.90" width="319.80" height="27.10" fill="#000"/>
<rect x="261.00" y="1786.00" width="220.00" height="22.00" fill="#868686"/>
<line x1="513.40" y1="1749.00" x2="520.60" y2="1749.00" stroke="#000" stroke-width="4.0" stroke-linecap="butt"/>
<line x1="520.60" y1="1742.10" x2="520.60" y2="1755.90" stroke="#000" stroke-width="4.2" stroke-linecap="butt"/>
<line x1="580.30" y1="1772.80" x2="586.00" y2="1772.80" stroke="#000" stroke-width="4.0" stroke-linecap="butt"/>
<line x1="586.00" y1="1765.90" x2="586.00" y2="1779.70" stroke="#000" stroke-width="4.2" stroke-linecap="butt"/>
<line x1="480.50" y1="1797.10" x2="495.60" y2="1797.10" stroke="#000" stroke-width="4.0" stroke-linecap="butt"/>
<line x1="495.60" y1="1790.20" x2="495.60" y2="1804.00" stroke="#000" stroke-width="4.2" stroke-linecap="butt"/>
<rect x="260.95" y="1860.90" width="212.25" height="24.00" fill="#fff" stroke="#000" stroke-width="4.2"/>
<rect x="261.00" y="1882.80" width="236.90" height="27.70" fill="#000"/>
<rect x="261.00" y="1909.50" width="200.90" height="23.30" fill="#868686"/>
<line x1="474.80" y1="1873.00" x2="486.60" y2="1873.00" stroke="#000" stroke-width="4.0" stroke-linecap="butt"/>
<line x1="486.60" y1="1866.10" x2="486.60" y2="1879.90" stroke="#000" stroke-width="4.2" stroke-linecap="butt"/>
<line x1="497.40" y1="1897.00" x2="504.60" y2="1897.00" stroke="#000" stroke-width="4.0" stroke-linecap="butt"/>
<line x1="504.60" y1="1890.10" x2="504.60" y2="1903.90" stroke="#000" stroke-width="4.2" stroke-linecap="butt"/>
<line x1="462.40" y1="1920.30" x2="474.90" y2="1920.30" stroke="#000" stroke-width="4.0" stroke-linecap="butt"/>
<line x1="474.90" y1="1913.40" x2="474.90" y2="1927.20" stroke="#000" stroke-width="4.2" stroke-linecap="butt"/>
<rect x="260.95" y="1985.30" width="546.65" height="24.20" fill="#fff" stroke="#000" stroke-width="4.2"/>
<rect x="261.00" y="2007.40" width="504.00" height="27.30" fill="#000"/>
<rect x="261.00" y="2033.70" width="514.50" height="22.30" fill="#868686"/>
<line x1="809.20" y1="1996.90" x2="825.40" y2="1996.90" stroke="#000" stroke-width="4.0" stroke-linecap="butt"/>
<line x1="825.40" y1="1990.00" x2="825.40" y2="2003.80" stroke="#000" stroke-width="4.2" stroke-linecap="butt"/>
<line x1="764.50" y1="2021.40" x2="776.40" y2="2021.40" stroke="#000" stroke-width="4.0" stroke-linecap="butt"/>
<line x1="776.40" y1="2014.50" x2="776.40" y2="2028.30" stroke="#000" stroke-width="4.2" stroke-linecap="butt"/>
<line x1="775.00" y1="2045.20" x2="786.80" y2="2045.20" stroke="#000" stroke-width="4.0" stroke-linecap="butt"/>
<line x1="786.80" y1="2038.30" x2="786.80" y2="2052.10" stroke="#000" stroke-width="4.2" stroke-linecap="butt"/>
<rect x="260.95" y="2108.90" width="568.85" height="24.00" fill="#fff" stroke="#000" stroke-width="4.2"/>
<rect x="261.00" y="2130.80" width="570.90" height="27.40" fill="#000"/>
<rect x="261.00" y="2157.20" width="564.80" height="23.50" fill="#868686"/>
<line x1="831.40" y1="2121.40" x2="834.40" y2="2121.40" stroke="#000" stroke-width="4.0" stroke-linecap="butt"/>
<line x1="834.40" y1="2114.50" x2="834.40" y2="2128.30" stroke="#000" stroke-width="4.2" stroke-linecap="butt"/>
<line x1="831.40" y1="2145.00" x2="836.00" y2="2145.00" stroke="#000" stroke-width="4.0" stroke-linecap="butt"/>
<line x1="836.00" y1="2138.10" x2="836.00" y2="2151.90" stroke="#000" stroke-width="4.2" stroke-linecap="butt"/>
<line x1="825.30" y1="2169.20" x2="826.80" y2="2169.20" stroke="#000" stroke-width="4.0" stroke-linecap="butt"/>
<line x1="826.80" y1="2162.30" x2="826.80" y2="2176.10" stroke="#000" stroke-width="4.2" stroke-linecap="butt"/>
<line x1="261.00" y1="1710.70" x2="261.00" y2="2208.80" stroke="#000" stroke-width="4.3" stroke-linecap="butt"/>
<line x1="258.85" y1="2206.70" x2="1109.00" y2="2206.70" stroke="#000" stroke-width="4.3" stroke-linecap="butt"/>
<text transform="translate(222.31,1695.60) scale(0.8171,1)" font-family='"Liberation Sans", sans-serif' font-weight="bold" font-size="43.04" fill="#000" stroke="#000" stroke-width="0.8" stroke-linejoin="round">I</text>
<text transform="translate(110.94,1782.60) scale(0.9861,1)" font-family='"Liberation Serif", serif' font-weight="bold" font-size="33.28" fill="#000">N Spikes</text>
<text transform="translate(184.51,1905.90) scale(0.9876,1)" font-family='"Liberation Serif", serif' font-weight="bold" font-size="32.98" fill="#000">Lat</text>
<text transform="translate(191.87,2030.30) scale(0.9708,1)" font-family='"Liberation Serif", serif' font-weight="bold" font-size="33.13" fill="#000">Ith</text>
<text transform="translate(190.37,2153.70) scale(1.0241,1)" font-family='"Liberation Serif", serif' font-weight="bold" font-size="32.42" fill="#000">AP</text>
<text transform="translate(587.45,1727.40) scale(1.0612,1)" font-family='"Liberation Serif", serif' font-weight="bold" font-size="40.76" fill="#000">EDL muscle</text>
<rect x="755.40" y="1780.40" width="18.70" height="17.80" fill="#fff" stroke="#000" stroke-width="3.6"/>
<rect x="753.60" y="1824.90" width="22.30" height="21.40" fill="#000"/>
<rect x="756.60" y="1872.00" width="16.30" height="16.70" fill="#868686"/>
<text transform="translate(782.42,1799.00) scale(0.9854,1)" font-family='"Liberation Serif", serif' font-weight="bold" font-size="32.21" fill="#000">WT</text>
<text transform="translate(782.39,1844.80) scale(1.0336,1)" font-family='"Liberation Serif", serif' font-weight="bold" font-size="32.58" fill="#000">MLC SOD1G93A</text>
<text transform="translate(782.39,1889.00) scale(1.0618,1)" font-family='"Liberation Serif", serif' font-weight="bold" font-size="32.18" fill="#000">MLCSOD + ACTZ 50uM</text>
<text transform="translate(252.63,2270.30) scale(0.9122,1)" font-family='"Liberation Serif", serif' font-weight="bold" font-size="40.00" fill="#000">1</text>
<text transform="translate(520.57,2270.30) scale(1.1736,1)" font-family='"Liberation Serif", serif' font-weight="bold" font-size="39.70" fill="#000">10</text>
<text transform="translate(791.66,2270.30) scale(1.1463,1)" font-family='"Liberation Serif", serif' font-weight="bold" font-size="39.70" fill="#000">100</text>
<text transform="translate(1063.96,2270.30) scale(1.1295,1)" font-family='"Liberation Serif", serif' font-weight="bold" font-size="39.70" fill="#000">1000</text>
<text transform="translate(608.36,2282.70) scale(1.0113,1)" font-family='"Liberation Serif", serif' font-weight="bold" font-size="42.29" fill="#000">Log scale</text>
<text transform="translate(604.99,1809.64) scale(1.0268,1)" font-family='"Liberation Sans", sans-serif' font-weight="normal" font-size="56.00" stroke="#000" stroke-width="1.3" stroke-linejoin="round">*</text>
<text transform="translate(512.78,1817.58) scale(1.1709,1)" font-family='"Liberation Sans", sans-serif' font-weight="normal" font-size="32.36" fill="#000" stroke="#000" stroke-width="0.8" stroke-linejoin="round">o</text>
</svg>
</body></html>
